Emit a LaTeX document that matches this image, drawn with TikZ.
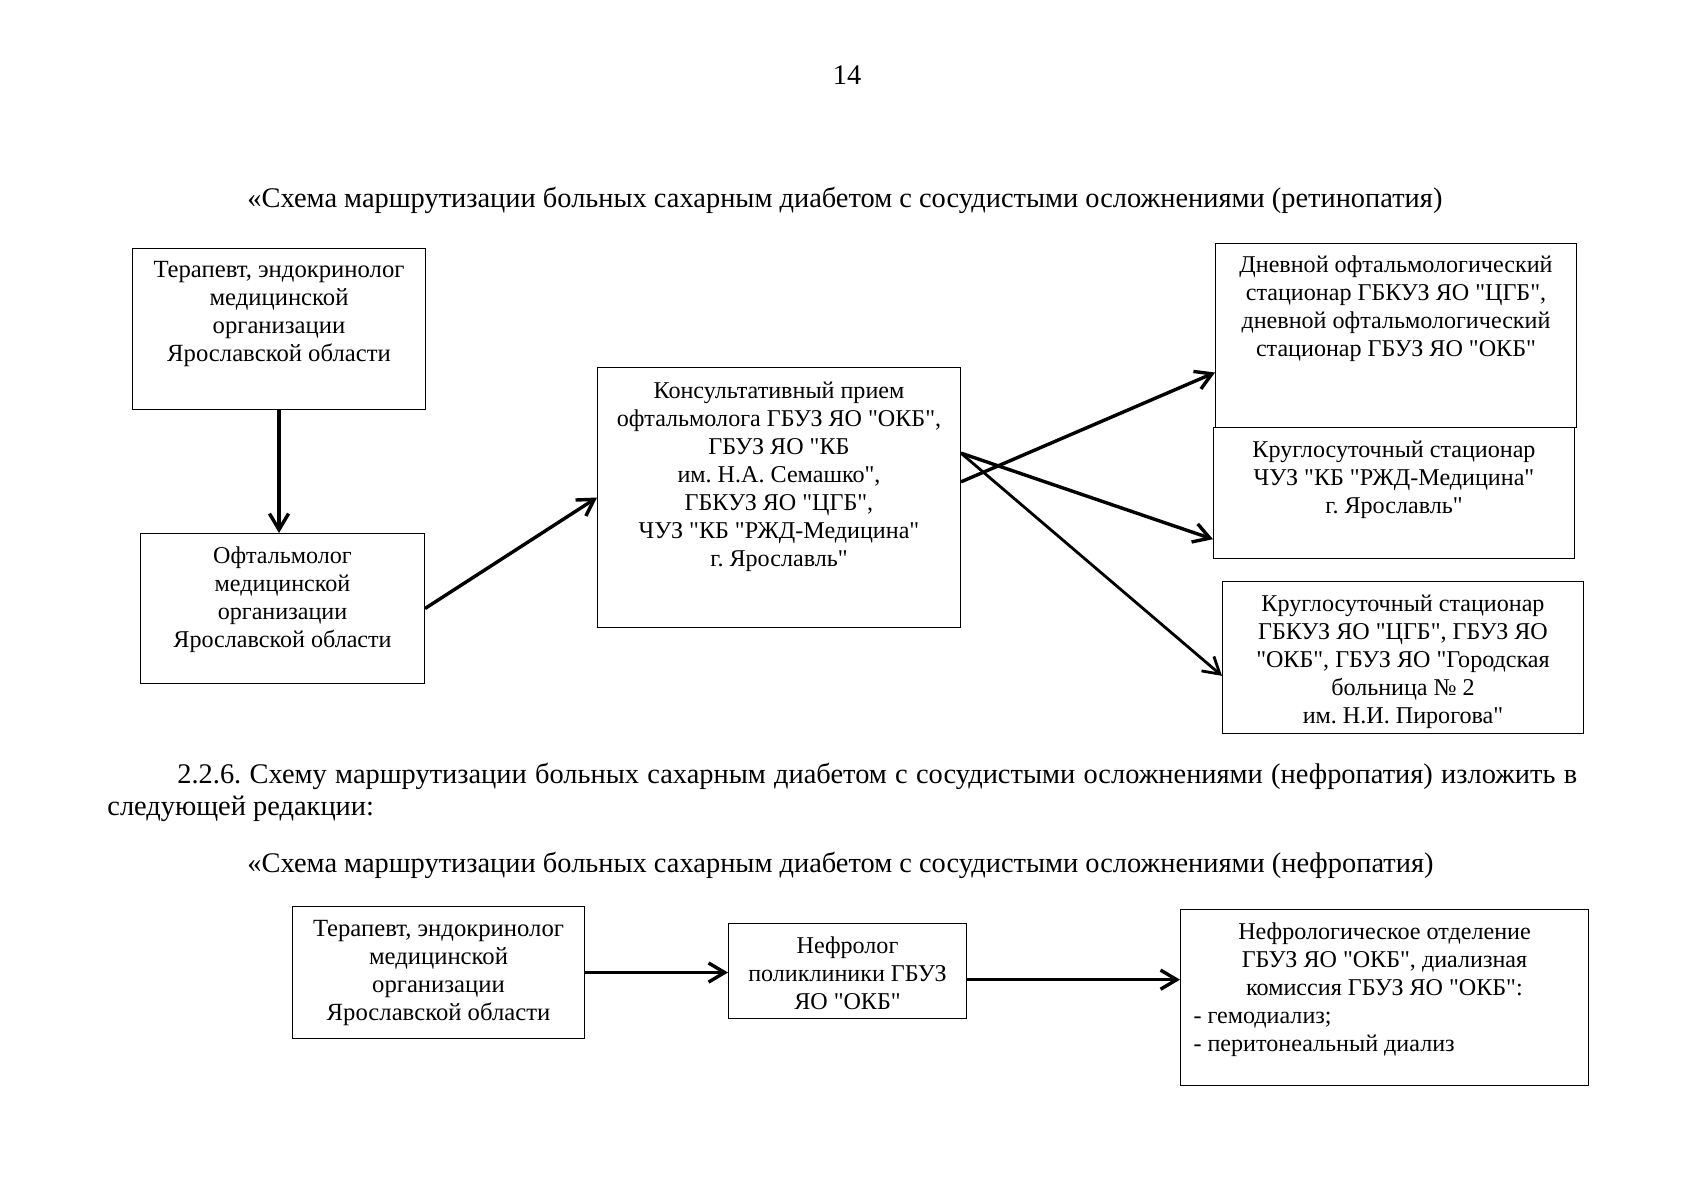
\documentclass[tikz,border=0pt]{standalone}
\usepackage{fontspec}
\setmainfont{Liberation Serif}[Ligatures=TeXOff]
\usepackage{tikz}
\usetikzlibrary{arrows.meta,calc}
\frenchspacing
\newlength{\px}
\setlength{\px}{0.17501mm}
% box text: width, height, top gap (in px), lines
\newcommand{\boxtxt}[4]{\parbox[c][#2\px][t]{#1\px}{\centering\vspace*{#3\px}#4\par}}
\tikzstyle{process} = [rectangle, draw=black, line width=0.5pt, inner sep=0pt, anchor=north west, font=\fontsize{12}{13.95}\selectfont]
\tikzstyle{heading} = [inner sep=0pt, anchor=base west, font=\fontsize{14.15}{16}\selectfont]
\tikzstyle{arrow} = [line width=1.7pt,-{Straight Barb[length=8pt,width=9.5pt]}]

\begin{document}
\begin{tikzpicture}[x=0.17501mm, y=-0.17501mm]

    \fill[white] (0,0) rectangle (1697,1200);

    \node (page_number) [heading, anchor=base] at (847,84) {14};

    \node (title_retino) [heading] at (247,207) {«Схема маршрутизации больных сахарным диабетом с сосудистыми осложнениями (ретинопатия)};

    \node (therapist_one) [process, font=\fontsize{12.3}{13.95}\selectfont] at (132,248) {\boxtxt{293}{161}{13}{Терапевт, эндокринолог\\ медицинской\\ организации\\ Ярославской области}};

    \node (ophthalmologist) [process] at (140,533) {\boxtxt{284}{150}{13}{Офтальмолог\\ медицинской\\ организации\\ Ярославской области}};

    \node (consultation) [process] at (597,367) {\boxtxt{363}{260}{14}{Консультативный прием\\ офтальмолога ГБУЗ ЯО "ОКБ",\\ ГБУЗ ЯО "КБ\\ им. Н.А. Семашко",\\ ГБКУЗ ЯО "ЦГБ",\\ ЧУЗ "КБ "РЖД-Медицина"\\ г. Ярославль"}};

    \node (day_hospital) [process] at (1215,243) {\boxtxt{361}{184}{12}{Дневной офтальмологический\\ стационар ГБКУЗ ЯО "ЦГБ",\\ дневной офтальмологический\\ стационар ГБУЗ ЯО "ОКБ"}};

    \node (round_clock_rzd) [process] at (1213,427) {\boxtxt{361}{131}{13}{Круглосуточный стационар\\ ЧУЗ "КБ "РЖД-Медицина"\\ г. Ярославль"}};

    \node (round_clock_cgb) [process] at (1222,581) {\boxtxt{361}{152}{13}{Круглосуточный стационар\\ ГБКУЗ ЯО "ЦГБ", ГБУЗ ЯО\\ "ОКБ", ГБУЗ ЯО "Городская\\ больница № 2\\ им. Н.И. Пирогова"}};

    \draw [arrow] (therapist_one.south) -- (therapist_one.south |- ophthalmologist.north);

    \draw [arrow] (ophthalmologist.east) -- (consultation.west);

    \draw [arrow] ($(consultation.north east)!0.44!(consultation.south east)$) -- ($(day_hospital.north west)!0.70!(day_hospital.south west)$);

    \draw [arrow] ($(consultation.north east)!0.33!(consultation.south east)$) -- ($(round_clock_rzd.north west)!0.85!(round_clock_rzd.south west)$);

    \draw [arrow, line width=1.4pt] ($(consultation.north east)!0.33!(consultation.south east)$) -- ($(round_clock_cgb.north west)!0.62!(round_clock_cgb.south west)$);

    \node (par_line_one) [heading] at (177,783) {\makebox[697pt][s]{2.2.6. Схему маршрутизации больных сахарным диабетом с сосудистыми осложнениями (нефропатия) изложить в}};

    \node (par_line_two) [heading] at (107,815) {следующей редакции:};

    \node (title_nephro) [heading] at (247,872) {«Схема маршрутизации больных сахарным диабетом с сосудистыми осложнениями (нефропатия)};

    \node (therapist_two) [process, font=\fontsize{12.3}{13.95}\selectfont] at (292,906) {\boxtxt{292}{132}{14}{Терапевт, эндокринолог\\ медицинской\\ организации\\ Ярославской области}};

    \node (nephrologist) [process] at (728,923) {\boxtxt{238}{95}{13}{Нефролог\\ поликлиники ГБУЗ\\ ЯО "ОКБ"}};

    \node (nephro_department) [process] at (1180,909) {\boxtxt{408}{176}{13}{Нефрологическое отделение\\ ГБУЗ ЯО "ОКБ", диализная\\ комиссия ГБУЗ ЯО "ОКБ":\par\raggedright\hspace*{13\px}- гемодиализ;\\ \hspace*{13\px}- перитонеальный диализ}};

    \draw [arrow] (therapist_two.east) -- (therapist_two.east -| nephrologist.west);

    \coordinate (nephro_out) at ($(nephrologist.north east)!0.59!(nephrologist.south east)$);

    \draw [arrow] (nephro_out) -- (nephro_out -| nephro_department.west);

\end{tikzpicture}
\end{document}
